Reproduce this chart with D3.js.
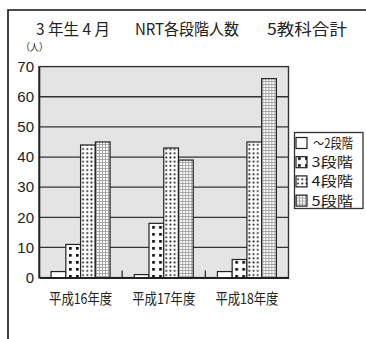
<!DOCTYPE html>
<html>
<head>
<meta charset="utf-8">
<script src="https://cdn.jsdelivr.net/npm/d3@7"></script>
<style>
  body { margin: 0; background: #fff; }
  svg { display: block; }
</style>
</head>
<body>
<svg id="chart" width="366" height="339"></svg>
<script>
// chart data
var categories = ["平成16年度", "平成17年度", "平成18年度"];
var seriesNames = ["～2段階", "3段階", "4段階", "5段階"];
var under2Values = [2, 1, 2];
var stage3Values = [11, 18, 6];
var stage4Values = [44, 43, 45];
var stage5Values = [45, 39, 66];
var yTicks = [0, 10, 20, 30, 40, 50, 60, 70];

var seriesValues = [under2Values, stage3Values, stage4Values, stage5Values];

const FONT = "'Liberation Sans', Arial, 'Noto Sans CJK JP', sans-serif";
const JP_FONT = "'Noto Sans CJK JP', 'Liberation Sans', sans-serif";
const INK = "#222";

var svg = d3.select("#chart");

// Patterns for the four bar fills
var defs = svg.append("defs");

var p3 = defs.append("pattern").attr("id", "pat3")
    .attr("patternUnits", "userSpaceOnUse")
    .attr("width", 7).attr("height", 7);
p3.append("rect").attr("width", 7).attr("height", 7).attr("fill", "#fff");
p3.append("rect").attr("x", 2).attr("y", 2).attr("width", 2.7).attr("height", 2.7).attr("fill", "#111");

var p4 = defs.append("pattern").attr("id", "pat4")
    .attr("patternUnits", "userSpaceOnUse")
    .attr("width", 4.2).attr("height", 4.2);
p4.append("rect").attr("width", 4.2).attr("height", 4.2).attr("fill", "#fff");
p4.append("rect").attr("x", 1.2).attr("y", 1.2).attr("width", 1.7).attr("height", 1.7).attr("fill", "#111");

var p5 = defs.append("pattern").attr("id", "pat5")
    .attr("patternUnits", "userSpaceOnUse")
    .attr("width", 3).attr("height", 3);
p5.append("rect").attr("width", 3).attr("height", 3).attr("fill", "#fff");
p5.append("rect").attr("width", 3).attr("height", 1).attr("fill", "#a6a6a6");
p5.append("rect").attr("width", 1).attr("height", 3).attr("fill", "#a6a6a6");

var fills = ["#fff", "url(#pat3)", "url(#pat4)", "url(#pat5)"];

// Outer frame (only top and left are inside the picture)
svg.append("path")
    .attr("d", "M8,339 V10 H366")
    .attr("fill", "none")
    .attr("stroke", "#111")
    .attr("stroke-width", 1.6);

// Title
var title = svg.append("text")
    .attr("y", 35)
    .attr("font-family", JP_FONT)
    .attr("font-size", 15.5)
    .attr("fill", INK);
title.append("tspan").attr("x", 36).attr("textLength", 74)
    .attr("lengthAdjust", "spacingAndGlyphs").text("3 年生 4 月");
title.append("tspan").attr("x", 135).attr("textLength", 104)
    .attr("lengthAdjust", "spacingAndGlyphs").text("NRT各段階人数");
title.append("tspan").attr("x", 267).attr("textLength", 80)
    .attr("lengthAdjust", "spacingAndGlyphs").text("5教科合計");

svg.append("text")
    .attr("x", 21).attr("y", 51)
    .attr("font-family", JP_FONT)
    .attr("font-size", 10)
    .attr("textLength", 27)
    .attr("lengthAdjust", "spacingAndGlyphs")
    .attr("fill", INK)
    .text("（人）");

// Scales
var plotLeft = 39, plotRight = 288.5, plotTop = 66.6, plotBottom = 277.6;

var x = d3.scaleBand()
    .domain(categories)
    .range([plotLeft, plotRight])
    .paddingInner(0).paddingOuter(0);

var xs = d3.scaleBand()
    .domain(d3.range(seriesNames.length))
    .range([0, x.bandwidth()])
    .paddingInner(0).paddingOuter(0.82);

var y = d3.scaleLinear().domain([0, 70]).range([plotBottom, plotTop]);

// Plot background
svg.append("rect")
    .attr("x", plotLeft).attr("y", plotTop)
    .attr("width", plotRight - plotLeft).attr("height", plotBottom - plotTop)
    .attr("fill", "#e4e4e5");

// Grid lines
svg.append("g")
    .selectAll("line")
    .data(yTicks.filter(function(d) { return d > 0 && d < 70; }))
    .enter().append("line")
        .attr("x1", plotLeft).attr("x2", plotRight)
        .attr("y1", function(d) { return y(d); })
        .attr("y2", function(d) { return y(d); })
        .attr("stroke", "#333")
        .attr("stroke-width", 1.3);

// Plot frame
svg.append("rect")
    .attr("x", plotLeft).attr("y", plotTop)
    .attr("width", plotRight - plotLeft).attr("height", plotBottom - plotTop)
    .attr("fill", "none")
    .attr("stroke", "#333")
    .attr("stroke-width", 1.4);

// Bars
var groups = svg.append("g")
    .selectAll("g")
    .data(categories)
    .enter().append("g")
        .attr("transform", function(d) { return "translate(" + x(d) + ",0)"; });

groups.selectAll("rect")
    .data(function(d, i) {
        return seriesValues.map(function(vals, s) { return { s: s, v: vals[i] }; });
    })
    .enter().append("rect")
        .attr("x", function(d) { return xs(d.s); })
        .attr("y", function(d) { return y(d.v); })
        .attr("width", xs.bandwidth())
        .attr("height", function(d) { return y(0) - y(d.v); })
        .attr("fill", function(d) { return fills[d.s]; })
        .attr("stroke", "#222")
        .attr("stroke-width", 1.2);

// Axes
var yAxis = svg.append("g")
    .attr("transform", "translate(" + plotLeft + ",0)")
    .call(d3.axisLeft(y).tickValues(yTicks).tickSize(0).tickPadding(5));
yAxis.select(".domain").attr("stroke", "#222").attr("stroke-width", 1.6);
yAxis.selectAll("text")
    .attr("font-family", FONT)
    .attr("font-size", 15)
    .attr("fill", INK);

var xAxis = svg.append("g")
    .attr("transform", "translate(0," + plotBottom + ")")
    .call(d3.axisBottom(x).tickSize(0).tickPadding(0));
xAxis.select(".domain").attr("stroke", "#222").attr("stroke-width", 2);
xAxis.selectAll("text")
    .attr("y", 26)
    .attr("dy", 0)
    .attr("font-family", JP_FONT)
    .attr("font-size", 15)
    .attr("textLength", 63)
    .attr("lengthAdjust", "spacingAndGlyphs")
    .attr("fill", INK);

// Separator ticks between categories
svg.append("g")
    .selectAll("line")
    .data(categories.slice(1))
    .enter().append("line")
        .attr("x1", function(d) { return x(d); })
        .attr("x2", function(d) { return x(d); })
        .attr("y1", plotBottom)
        .attr("y2", plotBottom - 7)
        .attr("stroke", "#222")
        .attr("stroke-width", 1.2);

// Legend
var legend = svg.append("g");
legend.append("rect")
    .attr("x", 294.5).attr("y", 132.5)
    .attr("width", 68.5).attr("height", 76)
    .attr("fill", "#fff")
    .attr("stroke", "#333")
    .attr("stroke-width", 1.3);

var items = legend.selectAll("g.item")
    .data(seriesNames)
    .enter().append("g")
        .attr("class", "item")
        .attr("transform", function(d, i) { return "translate(296," + (143 + i * 19.2) + ")"; });

items.append("rect")
    .attr("x", 0).attr("y", -5.5)
    .attr("width", 11).attr("height", 11)
    .attr("fill", function(d, i) { return fills[i]; })
    .attr("stroke", "#222")
    .attr("stroke-width", 1.2);

items.append("text")
    .attr("x", function(d, i) { return i === 0 ? 17 : 15.5; })
    .attr("y", 5)
    .attr("font-family", JP_FONT)
    .attr("font-size", 13.5)
    .attr("textLength", function(d, i) { return i === 0 ? 40 : 41.5; })
    .attr("lengthAdjust", "spacingAndGlyphs")
    .attr("fill", INK)
    .text(function(d) { return d; });
</script>
</body>
</html>
